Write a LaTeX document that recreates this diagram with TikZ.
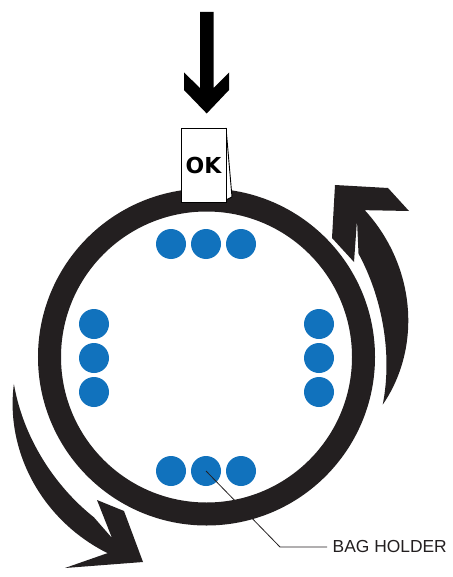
\documentclass[tikz,border=0pt]{standalone}
\usepackage{fontspec}
\setmainfont{Liberation Sans}
\setsansfont{Liberation Sans}
\newfontfamily\tagfont{DejaVu Sans}
\definecolor{ringdark}{HTML}{231F20}
\definecolor{holderblue}{HTML}{1172BD}

\begin{document}
\begin{tikzpicture}[x=1pt, y=-1pt,
    holder/.style={circle, fill=holderblue, minimum size=30pt, inner sep=0pt},
    ringband/.style={circle, draw=ringdark, line width=23pt, minimum size=314pt, inner sep=0pt},
    okcard/.style={draw=black, line width=0.9pt, fill=white, minimum width=45pt, minimum height=74pt,
                   inner sep=0pt, font=\tagfont\bfseries\fontsize{22}{22}\selectfont},
    lab/.style={font=\sffamily\fontsize{17.4}{18}\selectfont, text=ringdark, inner xsep=5.5pt},
    leader/.style={draw=ringdark, line width=0.8pt},
    turn/.style={fill=ringdark},
]
\fill[white] (0,0) rectangle (452,577);

% ---------------- ring with the holders
\node[ringband] (ring) at (206.5,357) {};
\foreach \px/\k in {171/1, 206/2, 241/3}{
    \node[holder] (top\k) at (\px,244) {};
    \node[holder] (bot\k) at (\px,471) {};
}
\foreach \py/\k in {324/1, 358/2, 392/3}{
    \node[holder] (left\k) at (94,\py) {};
    \node[holder] (right\k) at (319,\py) {};
}

% ---------------- turning arrows (polar round the ring)
\begin{scope}[shift={(205,357)}]
\fill[turn] plot[domain=0:1, samples=40] ({15-57.6*\x}:{184+33*(1-(1-\x)^2)})
    -- (204,-146) -- (183,-169) -- (130,-172) -- (127,-119) -- (149,-95) -- (152,-137)
    -- plot[domain=0.85:0, samples=35] ({15-57.6*\x}:{184-4*sin(180*\x)+4*\x^2}) -- cycle;
\fill[turn] plot[domain=0:1, samples=40] ({172-55.6*\x}:{193+26*(1-(1-\x)^2)})
    -- (-140,211) -- (-62,205) -- (-81,154) -- (-108,143) -- (-93,181)
    -- plot[domain=0.85:0, samples=35] ({172-55.6*\x}:{193-3*sin(180*\x)+4*\x}) -- cycle;
\end{scope}

% ---------------- drop arrow and tag
\fill[black] (200,12) -- (213.5,12) -- (213.5,88) -- (229,72.5) -- (229,90) -- (206.7,113.5)
    -- (184,90) -- (184,72.5) -- (200,88) -- cycle;
\draw[fill=white, line width=0.9pt] (226,128) -- (232,197) -- (226,200) -- cycle;
\node[okcard] (okTag) at (203.5,165) {OK};

% ---------------- label
\coordinate (bend) at (280,547);
\node[lab, anchor=west] (holderLabel) at (327,547) {BAG HOLDER};
\draw[leader] (bot2.center) -- (bend) -- (holderLabel.west);
\end{tikzpicture}
\end{document}
